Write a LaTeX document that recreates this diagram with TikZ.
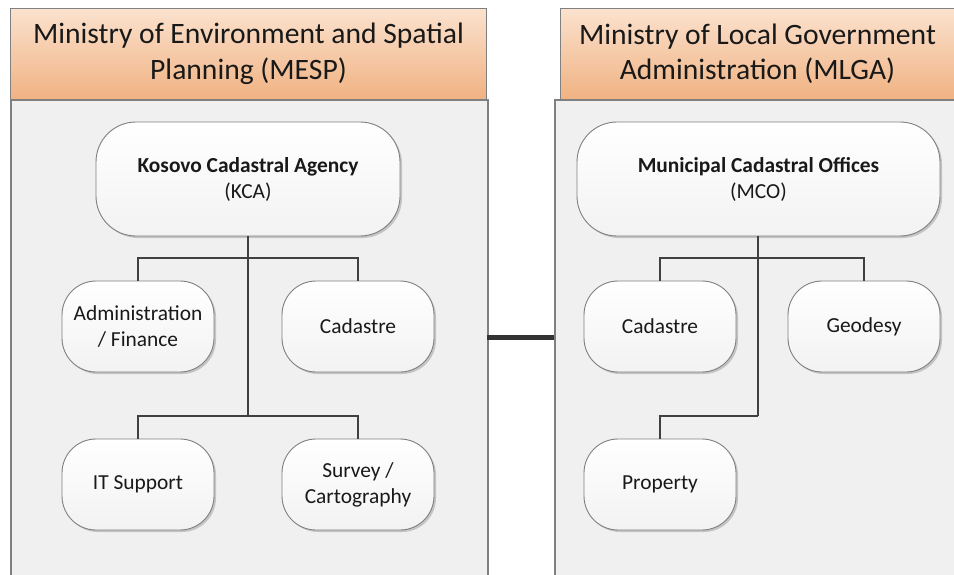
\documentclass[tikz,border=0pt]{standalone}
\usepackage{fontspec}
\setmainfont{Carlito}
\usetikzlibrary{shadows}
\definecolor{hdtop}{HTML}{FBE2CE}
\definecolor{hdbot}{HTML}{F0B282}
\definecolor{bodyfill}{HTML}{F0F0F0}
\definecolor{edgegray}{HTML}{808080}
\definecolor{conncol}{HTML}{404040}
\tikzset{
  header/.style={draw=edgegray, line width=1pt, top color=hdtop, bottom color=hdbot,
    anchor=north west, inner sep=0pt, align=center,
    font=\fontsize{29.6}{35.5}\selectfont, text=black!90},
  panel/.style={draw=edgegray, line width=1.5pt, fill=bodyfill, anchor=north west, inner sep=0pt},
  unit/.style={draw=edgegray, line width=0.9pt, rounded corners=34pt,
    top color=white, bottom color=black!5, align=center, inner sep=2pt,
    minimum width=152pt, minimum height=91pt, text=black!90,
    font=\fontsize{21.4}{26}\selectfont,
    drop shadow={shadow xshift=2pt, shadow yshift=-2pt, opacity=0.18, fill=black}},
  bigunit/.style={unit, rounded corners=40pt, minimum height=114pt},
  conn/.style={draw=conncol, line width=2.6pt},
  bar/.style={draw=black!80, line width=5pt}
}
\begin{document}
\begin{tikzpicture}[x=1pt,y=-1pt]
\useasboundingbox (0,0) rectangle (954,574);
\clip (0,0) rectangle (954,574);
\fill[white] (0,0) rectangle (954,574);
% panels
\node[panel, minimum width=477pt, minimum height=490pt] (lbody) at (10,99) {};
\node[panel, minimum width=410pt, minimum height=490pt] (rbody) at (554,99) {};
\node[header, minimum width=476pt, minimum height=91pt] (lhead) at (10,8)
  {Ministry of Environment and Spatial\\Planning (MESP)};
\node[header, minimum width=400pt, minimum height=91pt] (rhead) at (560,8)
  {\hspace*{-6pt}Ministry of Local Government\\\hspace*{-6pt}Administration (MLGA)};
% link between panels
\coordinate (barL) at (487,337);
\coordinate (barR) at (554,337);
\draw[bar] (barL) -- (barR);
% left side nodes
\node[bigunit, minimum width=304pt] (kca) at (248,179)
  {\textbf{Kosovo Cadastral Agency}\\(KCA)};
\node[unit] (admin) at (138,326.5) {Administration\\/ Finance};
\node[unit] (cadl) at (358,326.5) {Cadastre};
\node[unit] (it) at (138,484.5) {IT Support};
\node[unit] (survey) at (358,484.5) {Survey /\\Cartography};
% right side nodes
\node[bigunit, minimum width=363pt] (mco) at (758.5,179)
  {\textbf{Municipal Cadastral Offices}\\(MCO)};
\node[unit] (cadr) at (660,326.5) {Cadastre};
\node[unit] (geo) at (864,326.5) {Geodesy};
\node[unit] (prop) at (660,484.5) {Property};
% branch points
\coordinate (lb1) at (248,258);
\coordinate (lb2) at (248,416);
\coordinate (rb1) at (758,258);
\coordinate (rb2) at (758,416);
% connectors
\draw[conn] (kca.south -| lb1) -- (lb2);
\draw[conn] (admin.north) |- (lb1) -| (cadl.north);
\draw[conn] (it.north) |- (lb2) -| (survey.north);
\draw[conn] (mco.south -| rb1) -- (rb2);
\draw[conn] (cadr.north) |- (rb1) -| (geo.north);
\draw[conn] (prop.north) |- (rb2);
\end{tikzpicture}
\end{document}
